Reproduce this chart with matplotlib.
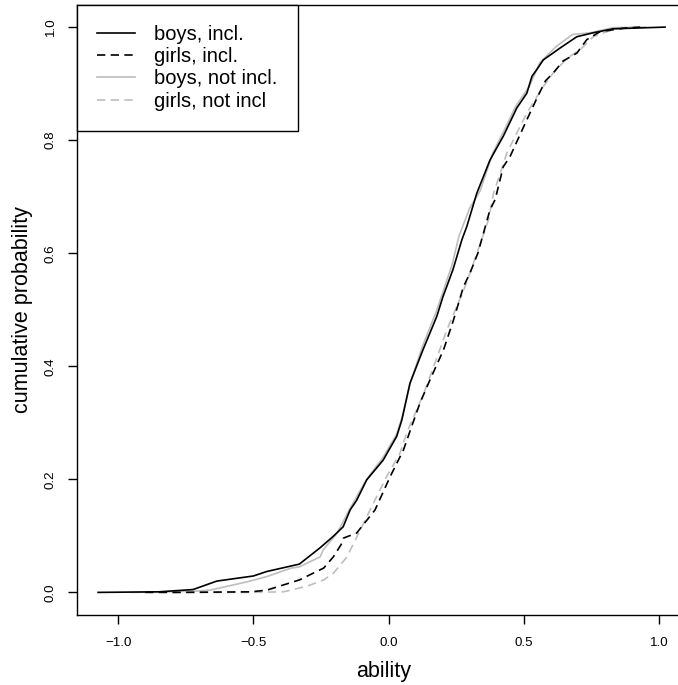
import numpy as np
import matplotlib.pyplot as plt

plt.rcParams['font.family'] = ['Liberation Sans', 'DejaVu Sans']

# kumulative Verteilungen
boys_incl_x = [-1.074, -0.85, -0.723, -0.635, -0.50, -0.45, -0.33, -0.253, -0.205, -0.168,
               -0.142, -0.118, -0.081, -0.020, 0.030, 0.049, 0.079, 0.127, 0.178, 0.201,
               0.238, 0.271, 0.289, 0.326, 0.375, 0.424, 0.474, 0.511, 0.530, 0.548,
               0.572, 0.634, 0.696, 0.757, 0.830, 1.022]
boys_incl_y = [0.0, 0.001, 0.005, 0.020, 0.029, 0.037, 0.050, 0.079, 0.099, 0.116,
               0.146, 0.163, 0.199, 0.234, 0.276, 0.305, 0.370, 0.429, 0.488, 0.523,
               0.571, 0.624, 0.647, 0.706, 0.765, 0.807, 0.857, 0.883, 0.913, 0.925,
               0.942, 0.963, 0.983, 0.990, 0.997, 1.0]

girls_incl_x = [-0.90, -0.77, -0.51, -0.45, -0.41, -0.33, -0.24, -0.204, -0.175, -0.167,
                -0.118, -0.05, 0.006, 0.055, 0.09, 0.116, 0.153, 0.203, 0.240, 0.277,
                0.301, 0.33, 0.375, 0.394, 0.424, 0.449, 0.511, 0.551, 0.58, 0.609,
                0.645, 0.696, 0.733, 0.782, 0.868, 0.93]
girls_incl_y = [0.0, 0.0, 0.001, 0.004, 0.010, 0.022, 0.043, 0.063, 0.085, 0.096,
                0.105, 0.146, 0.205, 0.252, 0.300, 0.335, 0.376, 0.429, 0.482, 0.541,
                0.565, 0.600, 0.677, 0.695, 0.753, 0.771, 0.836, 0.877, 0.905, 0.919,
                0.940, 0.954, 0.978, 0.992, 0.998, 1.0]

boys_not_x = [-0.95, -0.72, -0.66, -0.52, -0.45, -0.36, -0.33, -0.253, -0.242, -0.19,
              -0.142, -0.081, -0.019, 0.03, 0.05, 0.08, 0.125, 0.175, 0.20, 0.235,
              0.26, 0.30, 0.338, 0.386, 0.43, 0.47, 0.52, 0.559, 0.62, 0.68,
              0.745, 0.83, 0.95]
boys_not_y = [0.0, 0.002, 0.004, 0.019, 0.028, 0.043, 0.045, 0.063, 0.075, 0.105,
              0.149, 0.200, 0.240, 0.280, 0.310, 0.370, 0.435, 0.495, 0.530, 0.580,
              0.630, 0.680, 0.710, 0.778, 0.820, 0.860, 0.895, 0.937, 0.966, 0.987,
              0.990, 0.999, 1.0]

girls_not_x = [-0.80, -0.52, -0.39, -0.36, -0.29, -0.24, -0.204, -0.155, -0.105, -0.056,
               -0.007, 0.042, 0.067, 0.13, 0.18, 0.215, 0.277, 0.301, 0.344, 0.37,
               0.388, 0.437, 0.511, 0.572, 0.609, 0.66, 0.708, 0.757, 0.794, 0.85,
               0.92]
girls_not_y = [0.0, 0.0, 0.001, 0.004, 0.013, 0.022, 0.034, 0.062, 0.110, 0.158,
               0.205, 0.246, 0.282, 0.352, 0.417, 0.464, 0.534, 0.565, 0.624, 0.660,
               0.706, 0.777, 0.848, 0.895, 0.919, 0.945, 0.960, 0.983, 0.990, 0.998,
               1.0]

labels = ['boys, incl.', 'girls, incl.', 'boys, not incl.', 'girls, not incl']
x_ticks = [-1.0, -0.5, 0.0, 0.5, 1.0]
y_ticks = [0.0, 0.2, 0.4, 0.6, 0.8, 1.0]

grau = '#BEBEBE'
lw = 1.2
strich = (5, 3.2)

fig = plt.figure(figsize=(6.78, 6.85), dpi=100)
ax = fig.add_axes([76.7 / 678, 70 / 685, 613.5 / 678, 610.5 / 685])

# graue Kurven zuerst, dann schwarze darueber
ax.plot(boys_incl_x, boys_incl_y, color='black', lw=lw, label=labels[0], zorder=3)
ax.plot(girls_incl_x, girls_incl_y, color='black', lw=lw, linestyle=(0, strich),
        label=labels[1], zorder=3)
ax.plot(boys_not_x, boys_not_y, color=grau, lw=lw, label=labels[2], zorder=2)
ax.plot(girls_not_x, girls_not_y, color=grau, lw=lw, linestyle=(0, strich),
        label=labels[3], zorder=2)

ax.set_xlim(-1.153, 1.115)
ax.set_ylim(-0.04, 1.04)
ax.set_xticks(x_ticks)
ax.set_xticklabels([f'{v:.1f}'.replace('-', '\u2212') for v in x_ticks])
ax.set_yticks(y_ticks)
ax.set_yticklabels([f'{v:.1f}' for v in y_ticks], rotation=90, va='center')
ax.tick_params(labelsize=9.6, length=6.5, width=1.0, direction='out', pad=9)
ax.tick_params(axis='y', pad=8)

for s in ax.spines.values():
    s.set_linewidth(1.0)
    s.set_color('black')

ax.set_xlabel('ability', fontsize=15.5, labelpad=9)
ax.set_ylabel('cumulative probability', fontsize=15.5, labelpad=8)

leg = ax.legend(loc='upper left', bbox_to_anchor=(0, 1), borderaxespad=0,
                fancybox=False, edgecolor='black', framealpha=1, fontsize=14.5,
                handlelength=1.9, handletextpad=0.95, borderpad=1.0,
                labelspacing=0.17)
leg.get_frame().set_linewidth(1.0)

fig.savefig('out.png', dpi=100)
